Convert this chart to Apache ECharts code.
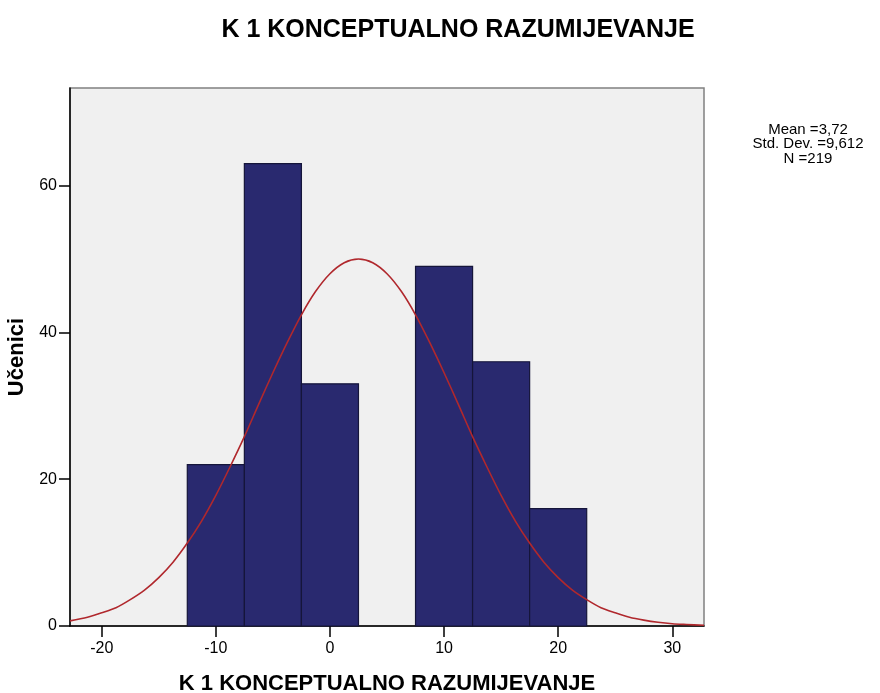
<!DOCTYPE html>
<html>
<head>
<meta charset="utf-8">
<script src="https://cdn.jsdelivr.net/npm/echarts@6/dist/echarts.min.js"></script>
<style>
  html, body { margin: 0; padding: 0; background: #fff; }
  #chart { width: 880px; height: 693px; }
</style>
</head>
<body>
<div id="chart"></div>
<script>
// histogram bins (bin centre, width 5)
const binCenters = [-10, -5, 0, 5, 10, 15, 20]
const binCounts = [22, 63, 33, 0, 49, 36, 16]
const binWidth = 5

// normal curve, values
const curveX = [-22.78, -21.25, -20, -18.75, -17.5, -16.25, -15, -13.75, -12.5, -11.25, -10, -8.75, -7.5, -6.25, -5, -3.75, -2.5, -1.25, 0, 1.25, 2.5, 3.75, 5, 6.25, 7.5, 8.75, 10, 11.25, 12.5, 13.75, 15, 16.25, 17.5, 18.75, 20, 21.25, 22.5, 23.75, 25, 26.25, 27.5, 28.75, 30, 31.25, 32.78]
const curveY = [0.7, 1.2, 1.8, 2.5, 3.6, 4.9, 6.6, 8.7, 11.3, 14.3, 17.8, 21.7, 25.8, 30.2, 34.5, 38.6, 42.4, 45.6, 48.0, 49.5, 50.0, 49.5, 48.0, 45.6, 42.4, 38.6, 34.5, 30.2, 25.8, 21.7, 17.8, 14.3, 11.3, 8.7, 6.6, 4.9, 3.6, 2.5, 1.8, 1.2, 0.8, 0.5, 0.3, 0.2, 0.1]

const xTicks = [-20, -10, 0, 10, 20, 30]
const yTicks = [0, 20, 40, 60]
const statLines = ['Mean =3,72', 'Std. Dev. =9,612', 'N =219']

const font = '"Liberation Sans", Arial, sans-serif'

let mychart = echarts.init(document.getElementById('chart'))
mychart.setOption({
  animation: false,
  title: {
    text: 'K 1 KONCEPTUALNO RAZUMIJEVANJE',
    left: 453,
    top: 13,
    textAlign: 'center',
    textStyle: { fontFamily: font, fontSize: 25, fontWeight: 'bold', color: '#000' }
  },
  grid: {
    left: 70,
    right: 176,
    top: 88,
    bottom: 67,
    outerBoundsMode: 'none',
    show: true,
    backgroundColor: '#f0f0f0',
    borderColor: '#808080',
    borderWidth: 1.5
  },
  xAxis: {
    type: 'value',
    min: -22.78,
    max: 32.78,
    name: 'K 1 KONCEPTUALNO RAZUMIJEVANJE',
    nameLocation: 'middle',
    nameGap: 47,
    nameTextStyle: { fontFamily: font, fontSize: 22, fontWeight: 'bold', color: '#000' },
    splitLine: { show: false },
    axisLine: { show: true, onZero: false, lineStyle: { color: '#000', width: 1.5 } },
    axisTick: {
      show: true, length: 11, lineStyle: { color: '#000', width: 1.5 },
      customValues: xTicks
    },
    axisLabel: {
      fontFamily: font, fontSize: 16, color: '#000', margin: 15,
      customValues: xTicks
    }
  },
  yAxis: {
    type: 'value',
    min: 0,
    max: 73.3,
    name: 'Učenici',
    nameLocation: 'middle',
    nameGap: 33,
    nameTextStyle: { fontFamily: font, fontSize: 22, fontWeight: 'bold', color: '#000' },
    splitLine: { show: false },
    axisLine: { show: true, onZero: false, lineStyle: { color: '#000', width: 1.5 } },
    axisTick: {
      show: true, length: 11, lineStyle: { color: '#000', width: 1.5 },
      customValues: yTicks
    },
    axisLabel: {
      fontFamily: font, fontSize: 16, color: '#000', margin: 13,
      customValues: yTicks
    }
  },
  graphic: statLines.map((t, i) => ({
    type: 'text',
    x: 808,
    y: 122 + i * 14.5,
    style: { text: t, align: 'center', verticalAlign: 'top', font: '15px ' + font, fill: '#000' }
  })),
  series: [
    {
      type: 'custom',
      data: binCenters.map((c, i) => [c, binCounts[i]]),
      renderItem: function (params, api) {
        const c = api.value(0)
        const h = api.value(1)
        if (!h) return
        const p0 = api.coord([c - binWidth / 2, h])
        const p1 = api.coord([c + binWidth / 2, 0])
        return {
          type: 'rect',
          shape: { x: p0[0], y: p0[1], width: p1[0] - p0[0], height: p1[1] - p0[1] },
          style: { fill: '#29296f', stroke: '#15153a', lineWidth: 1.2 }
        }
      },
      z: 2
    },
    {
      type: 'line',
      data: curveX.map((x, i) => [x, curveY[i]]),
      smooth: 0.3,
      symbol: 'none',
      lineStyle: { color: '#b0282d', width: 1.6 },
      z: 3
    }
  ]
})
</script>
</body>
</html>
